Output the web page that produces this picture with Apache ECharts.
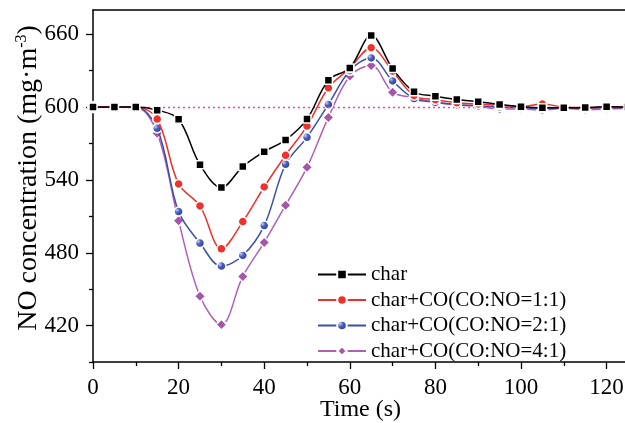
<!DOCTYPE html>
<html>
<head>
<meta charset="utf-8">
<script src="https://cdn.jsdelivr.net/npm/echarts@6/dist/echarts.min.js"></script>
<style>
html,body{margin:0;padding:0;background:#fff;}
#c{width:625px;height:423px;}
</style>
</head>
<body>
<div id="c"></div>
<script>
var times = [0,5,10,15,20,25,30,35,40,45,50,55,60,65,70,75,80,85,90,95,100,105,110,115,120,125];
var charVals = [600,600,600,597.5,590,552.6,533.7,551,563.3,572.9,590.1,622.2,632.3,658.9,631.8,612.6,609,606.3,604.4,602.2,600.3,599.4,599.4,599.6,600.2,600];
var co11Vals = [600,600,600,590.1,536.7,518.6,483.3,505.7,534.2,560.3,584.4,615.9,632,649,629.6,609.5,606,603.5,602.5,601.5,600.5,602.5,600,599.5,600,600];
var co21Vals = [600,600,600,582.5,513.9,488,469,477.8,502.4,552.9,575.1,602.2,630,640.5,621.6,607,604,602,601,600,599.5,599,599,599,599.5,599.5];
var co41Vals = [600,600,600,578.4,506.3,444.1,420.8,460.5,488.5,519.2,550.4,591.5,625.5,634.3,612.3,607.7,603.8,602,600.8,598.4,598.4,597.5,599,598,598.4,599];
var seriesNames = ['char','char+CO(CO:NO=1:1)','char+CO(CO:NO=2:1)','char+CO(CO:NO=4:1)'];
var refValue = 600;
var yMajorTicks = [420,480,540,600,660];
var yMinorTicks = [390,450,510,570,630];

function pairs(vals){ return times.map(function(t,i){ return [t, vals[i]]; }); }

var FONT = 'Liberation Serif';
var chart = echarts.init(document.getElementById('c'), null, {renderer:'canvas'});
var blueSphere = {type:'radial', x:0.35, y:0.35, r:0.7, colorStops:[{offset:0,color:'#c8d0f4'},{offset:0.35,color:'#4a5fc0'},{offset:1,color:'#243690'}]};

var option = {
  backgroundColor:'#fff',
  animation:false,
  grid:{left:93, top:10, right:-3, bottom:61, containLabel:false, outerBoundsMode:'none'},
  legend:{
    orient:'vertical', left:317, top:264, padding:0, itemWidth:48, itemHeight:12, itemGap:4.5,
    textStyle:{fontFamily:FONT, fontSize:21, color:'#000'},
    data:seriesNames
  },
  xAxis:[{
    type:'value', min:0, max:125, interval:20,
    name:'Time (s)', nameLocation:'middle', nameGap:36, nameMoveOverlap:false,
    nameTextStyle:{fontFamily:FONT, fontSize:24, color:'#000'},
    axisLine:{show:true, onZero:false, lineStyle:{color:'#000', width:1.5}},
    axisTick:{show:true, inside:false, length:7, lineStyle:{color:'#000', width:1.3}},
    minorTick:{show:true, splitNumber:2, length:4, lineStyle:{color:'#000', width:1.3}},
    axisLabel:{fontFamily:FONT, fontSize:23, color:'#000', margin:14, showMaxLabel:false,
      formatter:function(v){ return v%20===0 ? String(v) : ''; }},
    splitLine:{show:false}
  },{
    type:'value', min:0, max:125, position:'top',
    axisLine:{show:true, onZero:false, lineStyle:{color:'#000', width:1.5}},
    axisTick:{show:false}, axisLabel:{show:false}, splitLine:{show:false}
  }],
  yAxis:[{
    type:'value', min:390, max:680, interval:30,
    name:'NO concentration (mg·m{sup|-3})', nameLocation:'middle', nameGap:50, nameRotate:90, nameMoveOverlap:false,
    nameTextStyle:{fontFamily:FONT, fontSize:28, color:'#000', padding:[0,0,0,16],
      rich:{sup:{fontFamily:FONT, fontSize:16, color:'#000', verticalAlign:'top', padding:[0,0,13,0]}}},
    axisLine:{show:true, onZero:false, lineStyle:{color:'#000', width:1.5}},
    axisTick:{show:true, length:7, customValues:yMajorTicks, lineStyle:{color:'#000', width:1.3}},
    axisLabel:{fontFamily:FONT, fontSize:23, color:'#000', margin:14, customValues:yMajorTicks},
    splitLine:{show:false}
  },{
    type:'value', min:390, max:680, interval:30, position:'left',
    axisLine:{show:false},
    axisTick:{show:true, length:4, customValues:yMinorTicks, lineStyle:{color:'#000', width:1.3}},
    axisLabel:{show:false}, splitLine:{show:false}
  }],
  series:[
    {name:seriesNames[0], type:'line', smooth:0.35, z:6, data:pairs(charVals),
     symbol:'rect', symbolSize:8,
     lineStyle:{color:'#000', width:1.5},
     itemStyle:{color:'#000', borderColor:'#fff', borderWidth:1.5}},
    {name:seriesNames[1], type:'line', smooth:0.35, z:5, data:pairs(co11Vals),
     symbol:'circle', symbolSize:9,
     lineStyle:{color:'#f0302a', width:1.5},
     itemStyle:{color:'#f0302a', borderColor:'#fff', borderWidth:1.5}},
    {name:seriesNames[2], type:'line', smooth:0.35, z:4, data:pairs(co21Vals),
     symbol:'circle', symbolSize:9,
     lineStyle:{color:'#3a4ea8', width:1.5},
     itemStyle:{color:blueSphere, borderColor:'#fff', borderWidth:1.5}},
    {name:seriesNames[3], type:'line', smooth:0.35, z:3, data:pairs(co41Vals),
     symbol:'diamond', symbolSize:11,
     lineStyle:{color:'#b060b4', width:1.5},
     itemStyle:{color:'#a655a8', borderColor:'#fff', borderWidth:1.5}},
    {name:'ref', type:'line', data:[], z:10, silent:true,
     markLine:{silent:true, symbol:'none', label:{show:false}, animation:false,
       lineStyle:{color:'#ff3d96', type:[2,3], width:1.3},
       data:[{yAxis:refValue}]}}
  ]
};
chart.setOption(option);
</script>
</body>
</html>
